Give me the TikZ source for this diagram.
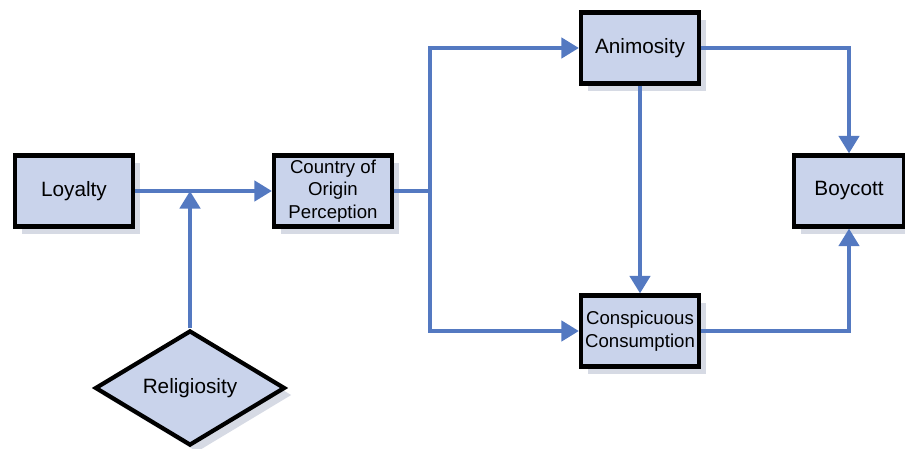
\documentclass[tikz,border=0pt]{standalone}
\usepackage{fontspec}
\setmainfont{Liberation Sans}
\usepackage{tikz}
\usetikzlibrary{shapes.geometric,arrows.meta,shadows}
\definecolor{boxfill}{HTML}{C9D3EB}
\definecolor{linkblue}{HTML}{5479C1}
\definecolor{shadowgray}{HTML}{C4CAD8}

\tikzset{
	factor/.style={draw=black, line width=2.4pt, fill=boxfill, minimum width=2.36cm, minimum height=1.42cm, inner sep=1pt, align=center, font=\fontsize{11.8}{14}\selectfont,
		drop shadow={shadow xshift=4pt, shadow yshift=-4pt, fill=shadowgray, opacity=0.7}},
	small/.style={font=\fontsize{10.6}{12.8}\selectfont},
	moderator/.style={diamond, draw=black, line width=2.4pt, fill=boxfill, inner sep=0pt, minimum width=3.8cm, minimum height=2.3cm, font=\fontsize{11.8}{14}\selectfont,
		drop shadow={shadow xshift=4pt, shadow yshift=-4pt, fill=shadowgray, opacity=0.7}},
	link/.style={draw=linkblue, line width=2.3pt, -{Triangle[length=10pt, width=11.5pt]}},
	plain/.style={draw=linkblue, line width=2.3pt}
}

\begin{document}
\begin{tikzpicture}[x=0.02cm, y=-0.02cm]
	\useasboundingbox (0,0) rectangle (905,449);
	% nodes
	\node[factor] (loyalty) at (74,191) {Loyalty};
	\node[factor, small] (coo) at (333,191) {Country of\\Origin\\Perception};
	\node[factor] (anim) at (640,48) {Animosity};
	\node[factor, small] (consp) at (640,331) {Conspicuous\\Consumption};
	\node[factor, minimum width=2.2cm] (boy) at (849,191) {Boycott};
	\node[moderator] (rel) at (190,388) {Religiosity};
	\coordinate (join) at (190,191);
	\coordinate (split) at (430,191);
	% connectors
	\draw[link] (loyalty) -- (coo);
	\draw[link] (rel) -- (join);
	\draw[plain] (coo) -- (split);
	\draw[link] (split) |- (anim);
	\draw[link] (split) |- (consp);
	\draw[link] (anim) -- (consp);
	\draw[link] (anim) -| (boy);
	\draw[link] (consp) -| (boy);
\end{tikzpicture}
\end{document}
